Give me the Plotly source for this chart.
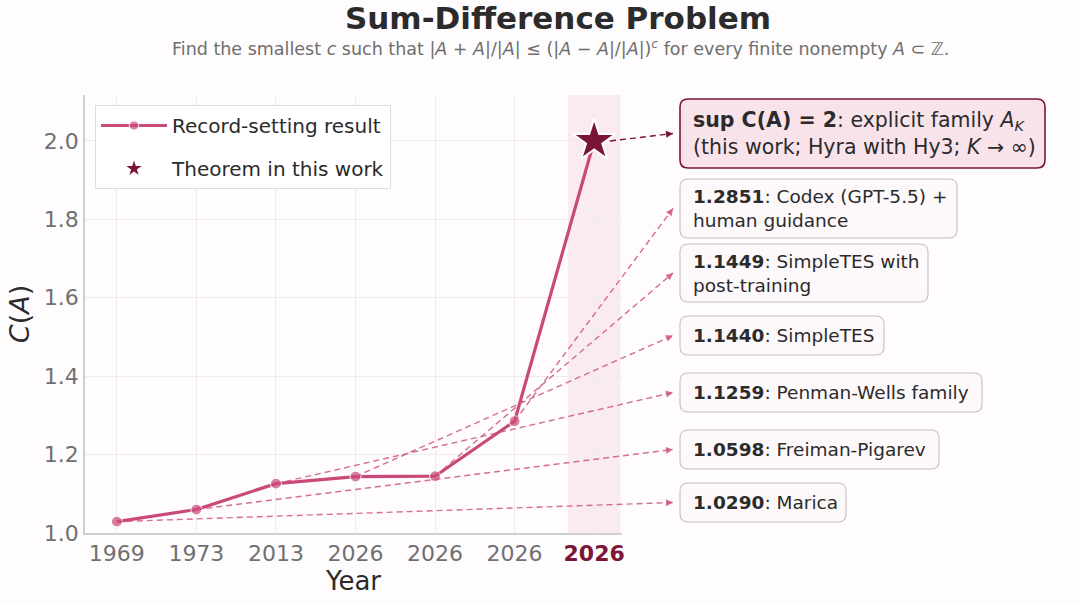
import plotly.graph_objects as go

# data
year_labels = ["1969", "1973", "2013", "2026", "2026", "2026", "2026"]
c_values = [1.0290, 1.0598, 1.1259, 1.1440, 1.1449, 1.2851, 2.0]
result_names = ["Marica", "Freiman-Pigarev", "Penman-Wells family", "SimpleTES",
                "SimpleTES with<br>post-training", "Codex (GPT-5.5) +<br>human guidance"]
theorem_text = ("<b>sup C(A) = 2</b>: explicit family <i>A</i><sub><i>K</i></sub><br>"
                "(this work; Hyra with Hy3; <i>K</i> → ∞)")
y_ticks = [1.0, 1.2, 1.4, 1.6, 1.8, 2.0]

PINK = "#c9497a"
MAROON = "#7b1538"
ARROW = "rgba(206,86,128,0.85)"
FONT = "DejaVu Sans"
BG = "#fefcfd"

# page layout (pixels); body margin is removed in the page, so figure px == page px
W, H = 1080, 603
ML, MT = 85, 95
PW, PH = 975, 438
MR, MB = W - ML - PW, H - MT - PH
X_RANGE = [-0.4, 6.35]
Y_RANGE = [1.0, 2.1173]
x_dom = (622 - ML) / PW
x2_max = X_RANGE[0] + (X_RANGE[1] - X_RANGE[0]) / x_dom


def px_to_x2(px):
    return X_RANGE[0] + (px - ML) / PW * (x2_max - X_RANGE[0])


def px_to_y(py):
    return Y_RANGE[0] + (MT + PH - py) / PH * (Y_RANGE[1] - Y_RANGE[0])


def px_to_paper(px, py):
    return (px - ML) / PW, (MT + PH - py) / PH


def rounded_box(l, r, t, b, rad=8):
    x0, y0 = px_to_paper(l, b)
    x1, y1 = px_to_paper(r, t)
    rx, ry = rad / PW, rad / PH
    return (f"M{x0+rx},{y0} L{x1-rx},{y0} Q{x1},{y0} {x1},{y0+ry} "
            f"L{x1},{y1-ry} Q{x1},{y1} {x1-rx},{y1} L{x0+rx},{y1} "
            f"Q{x0},{y1} {x0},{y1-ry} L{x0},{y0+ry} Q{x0},{y0} {x0+rx},{y0} Z")


# boxes: (left, right, top, bottom) in px, from the top box down
boxes = [(680, 1045, 99, 168), (680, 957, 179, 238), (680, 928, 244, 302),
         (680, 884, 316, 355), (680, 982, 373, 412), (680, 939, 430, 469),
         (680, 846, 483, 522)]

x_idx = list(range(len(year_labels)))
fig = go.Figure()

# shaded band behind the theorem column
shapes = [dict(type="rect", xref="x", yref="y domain", x0=5.67, x1=6.33, y0=0, y1=1,
               fillcolor="rgba(220,120,155,0.13)", line_width=0, layer="below")]

fig.add_trace(go.Scatter(
    x=x_idx, y=c_values, mode="lines+markers", name="Record-setting result",
    legendgroup="rec",
    line=dict(color=PINK, width=3.2),
    marker=dict(size=[11] * 6 + [0], color=PINK, line=dict(color="white", width=1.2)),
    xaxis="x", yaxis="y"))
fig.add_trace(go.Scatter(
    x=[x_idx[-1]], y=[c_values[-1]], mode="markers", name="Theorem in this work",
    legendgroup="thm",
    marker=dict(symbol="star", size=32, color=MAROON, line=dict(color="white", width=2)),
    xaxis="x", yaxis="y"))

# dashed leader lines from points to boxes (overlay subplot spanning full width)
order = [6, 5, 4, 3, 2, 1, 0]
annotations = []
for k, i in enumerate(order):
    l, r, t, b = boxes[k]
    hx, hy = px_to_x2(l - 7), px_to_y((t + b) / 2)
    tx, ty = x_idx[i], c_values[i]
    if i == 6:
        tx = tx + 0.2
    col = MAROON if i == 6 else ARROW
    fig.add_trace(go.Scatter(
        x=[tx, hx], y=[ty, hy], mode="lines", showlegend=False, hoverinfo="skip",
        line=dict(color=col, width=1.4, dash="6px,4px"), xaxis="x2", yaxis="y2"))
    # arrow head: short segment along the same direction
    dxp = (hx - tx) * PW / (x2_max - X_RANGE[0])
    dyp = (hy - ty) * PH / (Y_RANGE[1] - Y_RANGE[0])
    ln = (dxp ** 2 + dyp ** 2) ** 0.5
    f = 6 / ln
    annotations.append(dict(
        x=hx, y=hy, ax=hx - (hx - tx) * f, ay=hy - (hy - ty) * f,
        xref="x2", yref="y2", axref="x2", ayref="y2", text="", showarrow=True,
        arrowhead=2, arrowsize=1, arrowwidth=1.4, arrowcolor=col))

    # box and text
    fill = "#f9e3eb" if i == 6 else "#fdf8f9"
    border = MAROON if i == 6 else "#c9bcc1"
    shapes.append(dict(type="path", xref="paper", yref="paper", path=rounded_box(l, r, t, b),
                       fillcolor=fill, line=dict(color=border, width=1.6 if i == 6 else 1.1),
                       layer="above"))
    if i == 6:
        txt, fsize = theorem_text, 20.5
    else:
        txt, fsize = f"<b>{c_values[i]:.4f}</b>: {result_names[i]}", 18.5
    px_, py_ = px_to_paper(l + 11, (t + b) / 2)
    annotations.append(dict(x=px_, y=py_, xref="paper", yref="paper", text=txt,
                            showarrow=False, xanchor="left", yanchor="middle", align="left",
                            font=dict(family=FONT, size=fsize, color="#2b2b2b")))

# subtitle
sx, sy = px_to_paper(560, 48.5)
annotations.append(dict(
    x=sx, y=sy, xref="paper", yref="paper", showarrow=False, xanchor="center", yanchor="middle",
    text=("Find the smallest <i>c</i> such that |<i>A</i> + <i>A</i>|/|<i>A</i>| ≤ "
          "(|<i>A</i> − <i>A</i>|/|<i>A</i>|)<sup><i>c</i></sup> for every finite nonempty "
          "<i>A</i> ⊂ ℤ."),
    font=dict(family=FONT, size=17.5, color="#6e6e6e")))

tick_text = year_labels[:-1] + [f"<b><span style='color:{MAROON}'>{year_labels[-1]}</span></b>"]

fig.update_layout(
    width=W, height=H, autosize=False,
    margin=dict(l=ML, r=MR, t=MT, b=MB, autoexpand=False),
    paper_bgcolor=BG, plot_bgcolor="rgba(0,0,0,0)",
    font=dict(family=FONT, color="#333333"),
    title=dict(text="<b>Sum-Difference Problem</b>", x=558 / W, xanchor="center",
               y=1 - 18 / H, yanchor="middle",
               font=dict(family=FONT, size=31, color="#2b2b2b")),
    xaxis=dict(domain=[0, x_dom], range=X_RANGE, tickmode="array", tickvals=x_idx,
               ticktext=tick_text, tickfont=dict(size=22, color="#707070"),
               showgrid=True, gridcolor="#efeaec", gridwidth=1, zeroline=False,
               showline=True, linecolor="#cfcfcf", linewidth=1.5, ticks="",
               title=dict(text="Year", font=dict(size=26, color="#2b2b2b"), standoff=4),
               anchor="y", automargin=False),
    yaxis=dict(range=Y_RANGE, tickmode="array", tickvals=y_ticks,
               ticktext=[f"{v:.1f}" for v in y_ticks], tickfont=dict(size=22, color="#707070"),
               showgrid=True, gridcolor="#efeaec", gridwidth=1, zeroline=False,
               showline=True, linecolor="#cfcfcf", linewidth=1.5, ticks="",
               title=dict(text="<i>C</i>(<i>A</i>)", font=dict(size=27, color="#2b2b2b"), standoff=6),
               anchor="x", automargin=False),
    xaxis2=dict(domain=[0, 1], range=[X_RANGE[0], x2_max], visible=False, anchor="y2"),
    yaxis2=dict(domain=[0, 1], range=Y_RANGE, visible=False, anchor="x2"),
    legend=dict(x=(95 - ML) / PW, y=(MT + PH - 105) / PH, xanchor="left", yanchor="top",
                bgcolor="white", bordercolor="#dddddd", borderwidth=1,
                font=dict(family=FONT, size=20, color="#2b2b2b"), itemwidth=66,
                tracegroupgap=14),
    shapes=shapes,
    annotations=annotations,
    showlegend=True,
)

fig.write_html("out.html", config={"displayModeBar": False},
               post_script="document.body.style.margin='0';")
